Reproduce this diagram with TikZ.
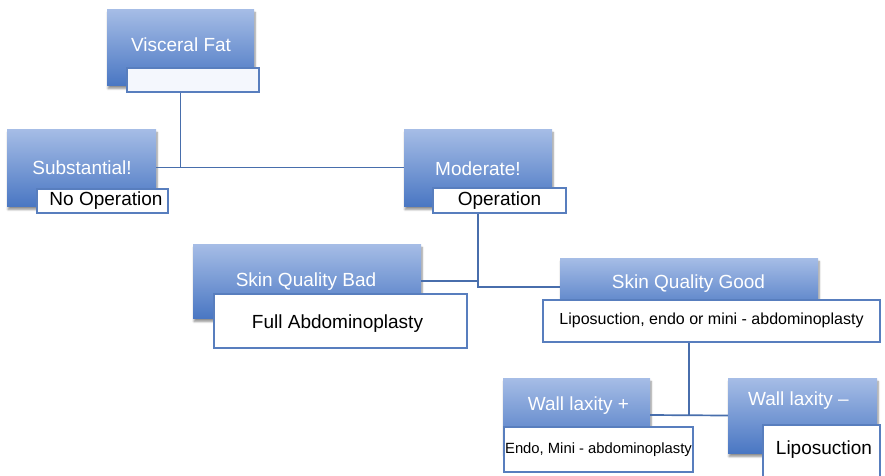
\documentclass[tikz,border=0pt]{standalone}
\usepackage{fontspec}
\setmainfont{Liberation Sans}
\usetikzlibrary{shadows.blur}
\definecolor{bluetop}{RGB}{166,189,230}
\definecolor{bluebot}{RGB}{74,119,195}
\definecolor{edgeblue}{RGB}{88,126,190}
\definecolor{lineblue}{RGB}{72,110,172}
\tikzset{
  bluebox/.style={draw=none, top color=bluetop, bottom color=bluebot, inner sep=0pt,
    blur shadow={shadow xshift=1pt, shadow yshift=-3.5pt, shadow blur steps=6, shadow opacity=45}},
  whitebox/.style={draw=edgeblue, fill=white, line width=1.4pt, inner sep=0pt},
  whitetxt/.style={text=white, font=\fontsize{19}{22}\selectfont, inner sep=0pt},
  blacktxt/.style={text=black, font=\fontsize{19}{22}\selectfont, inner sep=0pt},
  conn/.style={draw=lineblue, line width=1.7pt}
}
\begin{document}
\begin{tikzpicture}[x=1pt,y=-1pt]
\useasboundingbox (0,0) rectangle (885,475);
% Visceral fat
\node[bluebox, minimum width=147pt, minimum height=76pt] (vfb) at (180.5,47) {};
\node[whitetxt] (vft) at (181,44.5) {Visceral Fat};
\node[whitebox, fill={rgb,255:red,244;green,247;blue,253}, minimum width=132pt, minimum height=24pt] (vfw) at (193,80) {};
% Substantial
\node[bluebox, minimum width=149pt, minimum height=77pt] (subb) at (81.5,167.5) {};
\node[whitetxt] (subt) at (82,168) {Substantial!};
\node[whitebox, minimum width=131pt, minimum height=24pt] (subw) at (102.5,201) {};
\node[blacktxt] (subwt) at (106,200.5) {No Operation};
% Moderate
\node[bluebox, minimum width=148pt, minimum height=77pt] (modb) at (478,167.5) {};
\node[whitetxt] (modt) at (478,168.5) {Moderate!};
\node[whitebox, minimum width=133pt, minimum height=25pt] (modw) at (499.5,200.5) {};
\node[blacktxt] (modwt) at (499.5,200.5) {Operation};
% Skin quality bad
\node[bluebox, minimum width=228pt, minimum height=74pt] (badb) at (307,281) {};
\node[whitetxt] (badt) at (306,282) {Skin Quality Bad};
\node[whitebox, minimum width=253pt, minimum height=54pt] (badw) at (340.5,321) {};
\node[blacktxt] (badwt) at (337.5,323.5) {Full Abdominoplasty};
% Skin quality good
\node[bluebox, minimum width=258pt, minimum height=58pt] (goodb) at (689,287) {};
\node[whitetxt] (goodt) at (688.5,284) {Skin Quality Good};
\node[whitebox, minimum width=337pt, minimum height=42pt] (goodw) at (711.5,321) {};
\node[blacktxt, font=\fontsize{16}{19}\selectfont] (goodwt) at (711.5,320) {Liposuction, endo or mini - abdominoplasty};
% Wall laxity +
\node[bluebox, minimum width=147pt, minimum height=74pt] (wlpb) at (576.5,415) {};
\node[whitetxt] (wlpt) at (578.5,406) {Wall laxity +};
\node[whitebox, minimum width=189pt, minimum height=45pt] (wlpw) at (598.5,449.5) {};
\node[blacktxt, font=\fontsize{14.8}{17}\selectfont] (wlpwt) at (598.5,450) {Endo, Mini - abdominoplasty};
% Wall laxity -
\node[bluebox, minimum width=149pt, minimum height=75pt] (wlmb) at (802.5,415.5) {};
\node[whitetxt] (wlmt) at (798.5,400.5) {Wall laxity –};
\node[whitebox, minimum width=117pt, minimum height=55pt] (wlmw) at (821.5,452.5) {};
\node[blacktxt] (wlmwt) at (824,450) {Liposuction};
% connectors
\draw[conn] (vfb.center |- vfw.south) -- (vfb.center |- subb.east);
\draw[conn] (subb.east) -- (modb.west);
\draw[conn] (modb.center |- modw.south) -- (modb.center |- goodb.west) -- (goodb.west);
\draw[conn] (badb.east) -- (badb.east -| modb.center);
\draw[conn] (goodb.center |- goodw.south) -- (goodb.center |- wlpb.east);
\draw[conn] (wlpb.east) -- (wlmb.west);
\end{tikzpicture}
\end{document}
